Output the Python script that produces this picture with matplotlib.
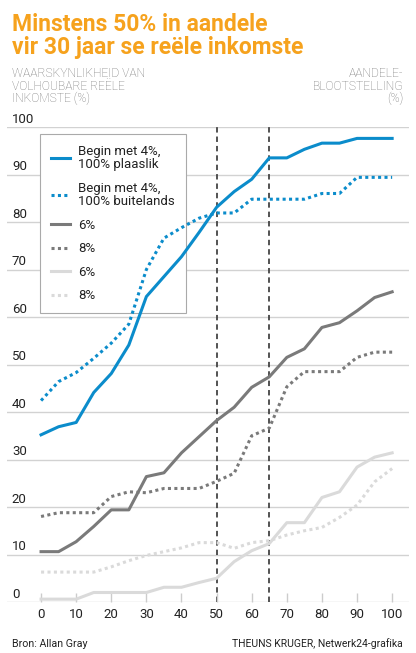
import matplotlib.pyplot as plt
from matplotlib.lines import Line2D

plt.rcParams['font.family'] = ['Roboto', 'DejaVu Sans']

# aandeleblootstelling (%)
blootstelling = [0, 5, 10, 15, 20, 25, 30, 35, 40, 45, 50,
                 55, 60, 65, 70, 75, 80, 85, 90, 95, 100]

# waarskynlikheid van volhoubare reele inkomste (%)
begin4_plaaslik = [35.2, 36.9, 37.8, 44.1, 48.1, 54.1, 64.3, 68.5, 72.7, 77.8, 83.1,
                   86.4, 89.0, 93.5, 93.5, 95.3, 96.6, 96.6, 97.6, 97.6, 97.6]
begin4_buitelands = [42.4, 46.4, 48.3, 51.3, 54.5, 58.5, 70.0, 76.6, 78.8, 80.8, 81.9,
                     81.9, 84.8, 84.8, 84.8, 84.8, 86.0, 86.0, 89.4, 89.4, 89.4]
donker_6 = [10.6, 10.6, 12.7, 15.9, 19.4, 19.4, 26.4, 27.2, 31.4, 34.8, 38.2,
            41.0, 45.2, 47.4, 51.5, 53.3, 57.8, 58.8, 61.3, 64.1, 65.3]
donker_8 = [18.0, 18.8, 18.8, 18.8, 22.2, 23.2, 23.0, 23.9, 23.9, 23.9, 25.4,
            27.1, 35.0, 36.6, 45.3, 48.5, 48.5, 48.5, 51.5, 52.6, 52.6]
lig_6 = [0.6, 0.6, 0.6, 2.0, 2.0, 2.0, 2.0, 3.1, 3.1, 4.1, 5.0,
         8.5, 10.8, 12.3, 16.7, 16.7, 22.0, 23.2, 28.4, 30.5, 31.4]
lig_8 = [6.3, 6.3, 6.3, 6.3, 7.4, 8.7, 9.8, 10.6, 11.4, 12.5, 12.5,
         11.3, 12.5, 12.9, 14.1, 15.0, 15.7, 17.8, 20.4, 25.3, 28.1]

y_ticks = list(range(0, 101, 10))
x_ticks = list(range(0, 101, 10))
merke = [50, 65]

blou = '#0b8ccb'
donker = '#7a7a7a'
lig = '#dadada'
oranje = '#f6a21d'

fig = plt.figure(figsize=(4.16, 6.53), dpi=100)
ax = fig.add_axes([7/416, 51/653, 402/416, 475/653])
ax.set_xlim(-9.7, 104.8)
ax.set_ylim(0, 100)
for s in ax.spines.values():
    s.set_visible(False)

for v in y_ticks:
    ax.axhline(v, color='#d2d2d2', lw=1.0, zorder=0)
    ax.text(-8.3, v + 0.9, str(v), ha='left', va='baseline', fontsize=9.5, color='#222222')

ax.set_yticks([])
ax.set_xticks(x_ticks)
ax.tick_params(axis='x', direction='in', length=6.5, color='#cccccc', width=1,
               pad=4, labelsize=9.5, labelcolor='#222222')

for m in merke:
    ax.plot([m, m], [0, 100.6], color='#444444', lw=1.3, dashes=(3, 2.2), zorder=1, clip_on=False)

dots = (0, (1, 1.1))
l1, = ax.plot(blootstelling, lig_8, color=lig, lw=2.2, ls=dots, zorder=2, clip_on=False)
l2, = ax.plot(blootstelling, lig_6, color=lig, lw=2.2, zorder=2, clip_on=False)
l3, = ax.plot(blootstelling, donker_8, color=donker, lw=2.2, ls=dots, zorder=3, clip_on=False)
l4, = ax.plot(blootstelling, donker_6, color=donker, lw=2.2, zorder=3, clip_on=False)
l5, = ax.plot(blootstelling, begin4_buitelands, color=blou, lw=2.2, ls=dots, zorder=4, clip_on=False)
l6, = ax.plot(blootstelling, begin4_plaaslik, color=blou, lw=2.2, zorder=4, clip_on=False)

leg = ax.legend([l6, l5, l4, l3, l2, l1],
                ['Begin met 4%,\n100% plaaslik', 'Begin met 4%,\n100% buitelands',
                 '6%', '8%', '6%', '8%'],
                loc='upper left', bbox_to_anchor=(40/416, 1 - 134/653),
                bbox_transform=fig.transFigure, borderaxespad=0,
                fontsize=9.5, handlelength=1.5, handletextpad=0.6,
                borderpad=0.8, labelspacing=0.8, fancybox=False,
                framealpha=1, edgecolor='#aaaaaa')
leg.get_frame().set_linewidth(0.8)
leg.set_zorder(1.5)
for t in leg.get_texts():
    t.set_color('#222222')
    t.set_linespacing(1.05)

fig.text(12/416, 1 - 31/653, 'Minstens 50% in aandele', fontsize=16.5,
         fontweight='bold', color=oranje, va='baseline')
fig.text(12/416, 1 - 54/653, 'vir 30 jaar se reële inkomste', fontsize=16.5,
         fontweight='bold', color=oranje, va='baseline')

links = ['WAARSKYNLIKHEID VAN', 'VOLHOUBARE REËLE', 'INKOMSTE (%)']
regs = ['AANDELE-', 'BLOOTSTELLING', '(%)']
for i, (a, b) in enumerate(zip(links, regs)):
    yb = 1 - (77 + 12.5 * i) / 653
    fig.text(12/416, yb, a, fontsize=8.7, color='#777777', va='baseline', fontweight='light')
    fig.text(403/416, yb, b, fontsize=8.7, color='#777777', va='baseline', ha='right', fontweight='light')

fig.text(12/416, 1 - 647/653, 'Bron: Allan Gray', fontsize=7.7, color='#222222', va='baseline')
fig.text(403/416, 1 - 647/653, 'THEUNS KRUGER, Netwerk24-grafika', fontsize=7.5,
         color='#222222', va='baseline', ha='right')

fig.savefig('out.png', dpi=100)
